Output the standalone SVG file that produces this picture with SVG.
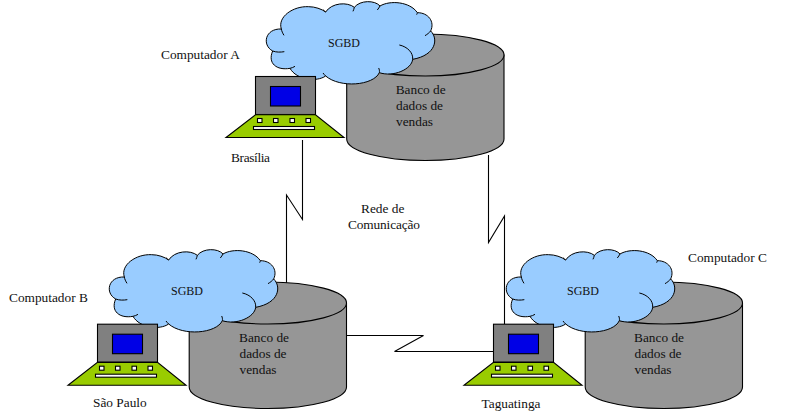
<svg xmlns="http://www.w3.org/2000/svg" width="792" height="420" viewBox="0 0 792 420">
<style>
text{font-family:"Liberation Serif","Times New Roman",serif;font-size:13.33px;fill:#111}
text.c{font-size:12px}
.s{stroke:#000;stroke-width:1.1}
.wire{fill:none;stroke:#000;stroke-width:1.1}
</style>
<defs>
<g id="cyl">
<path class="s" fill="#969696" d="M346.7 55V139C346.7 151 382 160.500 425.300 160.500S504 151 504 139V55Z"/>
<ellipse class="s" fill="#969696" cx="425.300" cy="55" rx="78.700" ry="21"/>
</g>
<g id="cloud" transform="scale(.33333)">
<path fill="#99ccff" stroke="#000" stroke-width="3" d="M38 153C5 135 15 85 64 87C52 50 100 18 145 20C165 20 185 27 197 36C215 8 262 5 283 22C300 0 345 0 360 18C390 0 450 5 472 38C505 38 525 65 512 93C535 115 530 165 458 178C455 208 400 232 358 218C340 257 240 265 197 228C170 247 110 240 90 205C50 212 22 190 38 153Z"/>
<path fill="none" stroke="#000" stroke-width="3" d="M38 153C48 157 62 157 73 155M64 87C65 93 68 100 72 106M197 36C194 34 192 32 189 29M283 22C282 26 281 30 279 34M360 18C358 22 355 26 352 30M472 38C472 40 471 42 470 44M512 93C508 98 502 103 495 107M418 135C442 140 460 158 458 178M358 218C359 213 358 208 356 204M197 228C194 225 191 222 189 219M90 205C95 204 100 202 105 199"/>
</g>
<g id="laptop">
<rect class="s" fill="#808080" x="255.500" y="76.500" width="60" height="38"/>
<rect class="s" fill="#0000e6" x="270.500" y="86.500" width="30" height="19.500"/>
<path class="s" fill="#99cc00" d="M255.500 114.700H315.500L344 137.500H226Z"/>
<g fill="#fff" class="s">
<rect x="257.500" y="118.500" width="4.500" height="4"/>
<rect x="273.500" y="118.500" width="4.500" height="4"/>
<rect x="290" y="118.500" width="4.500" height="4"/>
<rect x="306" y="118.500" width="4.500" height="4"/>
<rect x="253.500" y="126.500" width="61" height="3"/>
</g>
</g>
</defs>
<g id="connectors">
<path class="wire" d="M302.500 140V219.500L286.500 195V283"/>
<path class="wire" d="M488.500 155V242.500L504.500 216V324"/>
<path class="wire" d="M347 335.500H423.500L394.500 351.500H493"/>
</g>
<g id="banco-a"><use href="#cyl"/><text x="395.700" y="94">Banco de</text><text x="396" y="110">dados de</text><text x="396" y="126">vendas</text></g>
<g id="banco-b"><use href="#cyl" transform="translate(-157.500 248)"/><text x="239" y="342">Banco de</text><text x="239.500" y="358">dados de</text><text x="239.500" y="374">vendas</text></g>
<g id="banco-c"><use href="#cyl" transform="translate(238.500 248)"/><text x="634" y="342">Banco de</text><text x="634.500" y="358">dados de</text><text x="634.500" y="374">vendas</text></g>
<g id="sgbd-a"><use href="#cloud" transform="translate(260 0)"/><text class="c" x="328" y="47">SGBD</text></g>
<g id="sgbd-b"><use href="#cloud" transform="translate(103 248)"/><text class="c" x="171" y="295">SGBD</text></g>
<g id="sgbd-c"><use href="#cloud" transform="translate(500 248)"/><text class="c" x="567" y="295">SGBD</text></g>
<g id="computador-a"><use href="#laptop"/><text x="161" y="59">Computador A</text><text x="231" y="162" textLength="39">Brasília</text></g>
<g id="computador-b"><use href="#laptop" transform="translate(-158 247.700)"/><text x="9" y="302">Computador B</text><text x="93" y="407">São Paulo</text></g>
<g id="computador-c"><use href="#laptop" transform="translate(238 247.700)"/><text x="688" y="262">Computador C</text><text x="481.500" y="408">Taguatinga</text></g>
<g id="rede"><text x="361" y="212.500">Rede de</text><text x="348" y="228.500" textLength="72">Comunicação</text></g>
</svg>
